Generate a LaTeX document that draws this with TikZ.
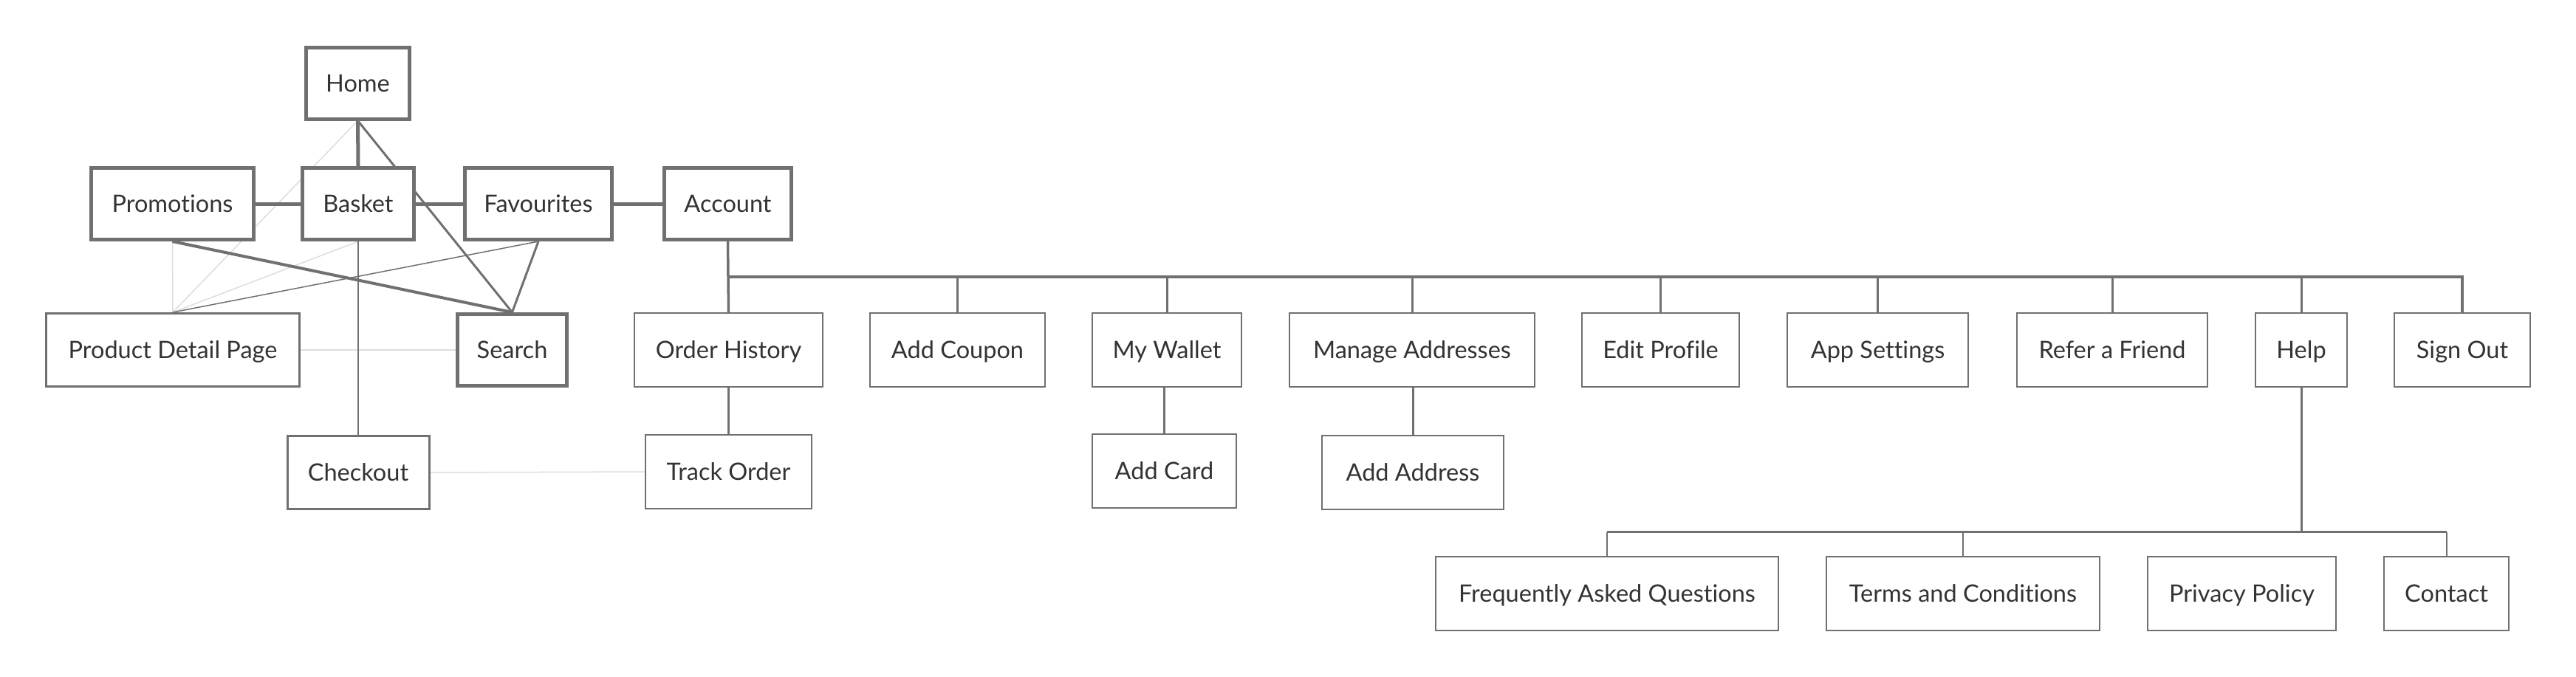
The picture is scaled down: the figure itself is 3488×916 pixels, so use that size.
\documentclass[tikz,border=0pt]{standalone}
\usepackage{fontspec}
\setmainfont{Lato}[Ligatures=NoCommon]
\usetikzlibrary{backgrounds}
\definecolor{boxgray}{HTML}{707070}
\definecolor{txtgray}{HTML}{333333}
\definecolor{lightln}{HTML}{DDDDDD}
\tikzset{
  pg/.style={draw=boxgray, fill=white, rectangle, inner sep=0pt, text=txtgray,
    font=\fontsize{32.5}{38}\selectfont, text height=23.3pt, text depth=0pt,
    minimum height=100pt, line width=2pt},
  mainbox/.style={pg, line width=5pt, minimum height=97pt},
  midbox/.style={pg, line width=3pt, minimum height=99pt},
  thickln/.style={draw=boxgray, line width=5pt},
  medln/.style={draw=boxgray, line width=4pt},
  darkln/.style={draw=boxgray, line width=3pt},
  hairln/.style={draw=boxgray, line width=1.5pt},
  lightcon/.style={draw=lightln, line width=1.5pt},
  treeln/.style={draw=boxgray, line width=3.5pt},
  subln/.style={draw=boxgray, line width=2.5pt},
  leafln/.style={draw=boxgray, line width=2pt}
}
\begin{document}
\begin{tikzpicture}[x=1pt,y=-1pt]
\useasboundingbox (0,0) rectangle (3488,916);
% top-level navigation
\node[mainbox, minimum width=140pt] (home) at (484.5,112.5) {Home};
\node[mainbox, minimum width=220pt] (promo) at (233.5,276) {Promotions};
\node[mainbox, minimum width=151pt] (basket) at (485,276) {Basket};
\node[mainbox, minimum width=199pt] (fav) at (729,276) {Favourites};
\node[mainbox, minimum width=172pt] (account) at (985.5,276) {Account};
\node[midbox, minimum width=343pt] (pdp) at (234,474) {Product Detail Page};
\node[mainbox, minimum width=148pt] (search) at (693.5,474) {Search};
\node[midbox, minimum width=192pt] (checkout) at (485,640) {Checkout};
% account subpages
\node[pg, minimum width=255pt] (orders) at (986.5,474) {Order History};
\node[pg, minimum width=237pt] (coupon) at (1296.5,474) {Add Coupon};
\node[pg, minimum width=202pt] (wallet) at (1580,474) {My Wallet};
\node[pg, minimum width=332pt] (addresses) at (1912,474) {Manage Addresses};
\node[pg, minimum width=213pt] (profile) at (2248.5,474) {Edit Profile};
\node[pg, minimum width=245pt] (settings) at (2542.5,474) {App Settings};
\node[pg, minimum width=258pt] (refer) at (2860,474) {Refer a Friend};
\node[pg, minimum width=124pt] (help) at (3116,474) {Help};
\node[pg, minimum width=184pt] (signout) at (3334,474) {Sign Out};
\node[pg, minimum width=225pt] (track) at (986.5,639) {Track Order};
\node[pg, minimum width=195pt] (card) at (1576.5,638) {Add Card};
\node[pg, minimum width=246pt] (address) at (1913,640) {Add Address};
% help subpages
\node[pg, minimum width=464pt] (faq) at (2176,804) {Frequently Asked Questions};
\node[pg, minimum width=370pt] (terms) at (2658,804) {Terms and Conditions};
\node[pg, minimum width=255pt] (privacy) at (3035.5,804) {Privacy Policy};
\node[pg, minimum width=169pt] (contact) at (3312.5,804) {Contact};
\coordinate (bus) at (0,375);
\coordinate (helpbus) at (0,720.5);
\begin{scope}[on background layer]
  % light connectors
  \draw[lightcon] (home.south) -- (pdp.north);
  \draw[lightcon] (promo.south) -- (pdp.north);
  \draw[lightcon] (basket.south) -- (pdp.north);
  \draw[lightcon] (pdp.east) -- (search.west);
  \draw[lightcon] (checkout.east) -- (track.west);
  % dark connectors
  \draw[thickln] (home.south) -- (basket.north);
  \draw[thickln] (promo.east) -- (basket.west);
  \draw[thickln] (basket.east) -- (fav.west);
  \draw[thickln] (fav.east) -- (account.west);
  \draw[darkln] (home.south) -- (search.north);
  \draw[medln] (promo.south) -- (search.north);
  \draw[hairln] (fav.south) -- (pdp.north);
  \draw[darkln] (fav.south) -- (search.north);
  \draw[hairln] (basket.south) -- (checkout.north);
  % account tree
  \draw[treeln] (account.south) -- (orders.north);
  \draw[treeln] (orders.north |- bus) -- (signout.north |- bus) -- (signout.north);
  \foreach \n in {coupon,wallet,addresses,profile,settings,refer,help}
    \draw[darkln] (\n.north |- bus) -- (\n.north);
  \draw[darkln] (orders.south) -- (track.north);
  \draw[darkln] (card.north |- wallet.south) -- (card.north);
  \draw[darkln] (address.north |- addresses.south) -- (address.north);
  % help tree
  \draw[darkln] (help.south) -- (help.south |- helpbus);
  \draw[subln] (faq.north |- helpbus) -- (contact.north |- helpbus);
  \foreach \n in {faq,terms,contact}
    \draw[leafln] (\n.north |- helpbus) -- (\n.north);
\end{scope}
\end{tikzpicture}
\end{document}
